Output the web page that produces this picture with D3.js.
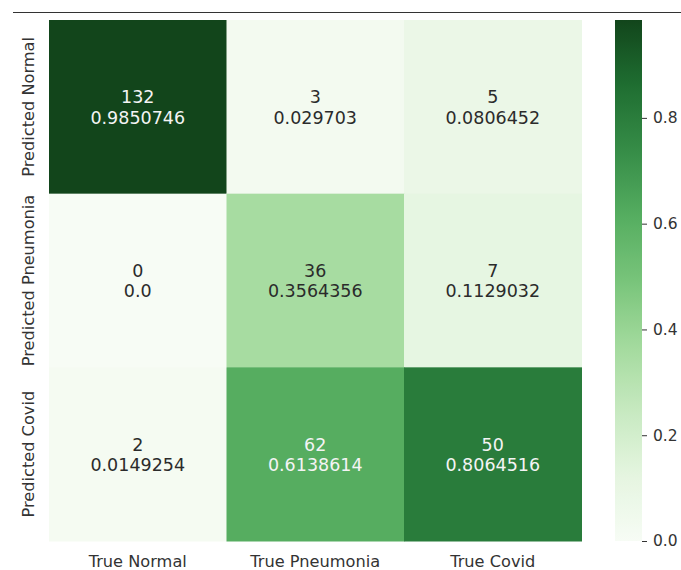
<!DOCTYPE html>
<html>
<head>
<meta charset="utf-8">
<script src="https://cdn.jsdelivr.net/npm/d3@7"></script>
<style>
  body { margin: 0; background: #fff; }
  svg { display: block; font-family: "DejaVu Sans", sans-serif; }
</style>
</head>
<body>
<svg></svg>
<script>
// categories
let trueLabels = ["True Normal", "True Pneumonia", "True Covid"]
let predLabels = ["Predicted Normal", "Predicted Pneumonia", "Predicted Covid"]

// counts, row = predicted, column = true
let counts = [
    [132, 3, 5],
    [0, 36, 7],
    [2, 62, 50]
]

// column-normalised values (used for colour)
let ratios = [
    [0.9850746, 0.029703, 0.0806452],
    [0.0, 0.3564356, 0.1129032],
    [0.0149254, 0.6138614, 0.8064516]
]

let cbarTicks = [0.0, 0.2, 0.4, 0.6, 0.8]

// "Greens", a bit muted in the darker half like the screenshot
let greens = ["#f7fcf5", "#e5f5e0", "#c7e9c0", "#a3da9d", "#78c47a", "#55ad60", "#368c47", "#1f6e31", "#12451b"]

let width = 681
let height = 570

let plotLeft = 49, plotRight = 581.5, plotTop = 20, plotBottom = 541

let svg = d3.select("svg")
    .attr("width", width)
    .attr("height", height)

// thin rule at the top of the picture
svg.append("line")
    .attr("x1", 13).attr("x2", width)
    .attr("y1", 12.5).attr("y2", 12.5)
    .attr("stroke", "#333")
    .attr("stroke-width", 1.2)

let vmin = 0
let vmax = d3.max(ratios.flat())

let color = d3.scaleLinear()
    .domain(greens.map((c, i) => vmin + (vmax - vmin) * i / (greens.length - 1)))
    .range(greens)
    .clamp(true)

let xScale = d3.scaleBand().domain(trueLabels).range([plotLeft, plotRight])
let yScale = d3.scaleBand().domain(predLabels).range([plotTop, plotBottom])

let cells = []
predLabels.forEach((p, i) => {
    trueLabels.forEach((t, j) => {
        cells.push({ row: p, col: t, count: counts[i][j], value: ratios[i][j] })
    })
})

// seaborn picks text colour from the cell's luminance
let luminance = (c) => {
    let rgb = d3.rgb(c)
    let ch = [rgb.r, rgb.g, rgb.b].map(v => {
        v = v / 255
        return v <= 0.03928 ? v / 12.92 : Math.pow((v + 0.055) / 1.055, 2.4)
    })
    return 0.2126 * ch[0] + 0.7152 * ch[1] + 0.0722 * ch[2]
}

let fmt = (v) => Number.isInteger(v) ? v.toFixed(1) : String(v)

svg.append("g")
    .selectAll("rect")
    .data(cells)
    .enter()
    .append("rect")
    .attr("x", d => xScale(d.col))
    .attr("y", d => yScale(d.row))
    .attr("width", xScale.bandwidth() + 0.5)
    .attr("height", yScale.bandwidth() + 0.5)
    .attr("fill", d => color(d.value))

let annot = svg.append("g")
    .selectAll("text")
    .data(cells)
    .enter()
    .append("text")
    .attr("text-anchor", "middle")
    .attr("font-size", "17.5px")
    .attr("fill", d => luminance(color(d.value)) > 0.408 ? "#2b2b2b" : "#f4f4f4")
    .attr("x", d => xScale(d.col) + xScale.bandwidth() / 2)
    .attr("y", d => yScale(d.row) + yScale.bandwidth() / 2)

annot.append("tspan")
    .attr("x", d => xScale(d.col) + xScale.bandwidth() / 2)
    .attr("dy", "-0.2em")
    .text(d => d.count)
annot.append("tspan")
    .attr("x", d => xScale(d.col) + xScale.bandwidth() / 2)
    .attr("dy", "1.17em")
    .text(d => fmt(d.value))

// x tick labels
let xAxis = d3.axisBottom(xScale).tickSize(0).tickPadding(14.5)
let gx = svg.append("g")
    .attr("transform", "translate(0," + plotBottom + ")")
    .call(xAxis)
gx.select(".domain").remove()
gx.selectAll("text")
    .attr("font-size", "16.2px")
    .attr("font-family", "DejaVu Sans")
    .attr("fill", "#333")

// y tick labels, rotated
let yAxis = d3.axisLeft(yScale).tickSize(0).tickPadding(0)
let gy = svg.append("g")
    .attr("transform", "translate(" + plotLeft + ",0)")
    .call(yAxis)
gy.select(".domain").remove()
gy.selectAll("text")
    .attr("font-size", "16.2px")
    .attr("font-family", "DejaVu Sans")
    .attr("fill", "#333")
    .attr("text-anchor", "middle")
    .attr("x", 0)
    .attr("dy", 0)
    .attr("transform", "translate(-15.5,0) rotate(-90)")

// colorbar
let cbLeft = 615, cbWidth = 27
let cbScale = d3.scaleLinear().domain([vmin, vmax]).range([plotBottom, plotTop])

let defs = svg.append("defs")
let grad = defs.append("linearGradient")
    .attr("id", "cbar")
    .attr("x1", 0).attr("x2", 0)
    .attr("y1", 1).attr("y2", 0)
grad.selectAll("stop")
    .data(d3.range(0, 1.0001, 0.02))
    .enter()
    .append("stop")
    .attr("offset", d => d)
    .attr("stop-color", d => color(vmin + d * (vmax - vmin)))

svg.append("rect")
    .attr("x", cbLeft)
    .attr("y", plotTop)
    .attr("width", cbWidth)
    .attr("height", plotBottom - plotTop)
    .attr("fill", "url(#cbar)")

let cbAxis = d3.axisRight(cbScale)
    .tickValues(cbarTicks)
    .tickFormat(d3.format(".1f"))
    .tickSize(5)
    .tickPadding(6)
let gc = svg.append("g")
    .attr("transform", "translate(" + (cbLeft + cbWidth) + ",0)")
    .call(cbAxis)
gc.select(".domain").remove()
gc.selectAll("line").attr("stroke", "#333")
gc.selectAll("text")
    .attr("font-size", "15.5px")
    .attr("font-family", "DejaVu Sans")
    .attr("fill", "#333")
</script>
</body>
</html>
